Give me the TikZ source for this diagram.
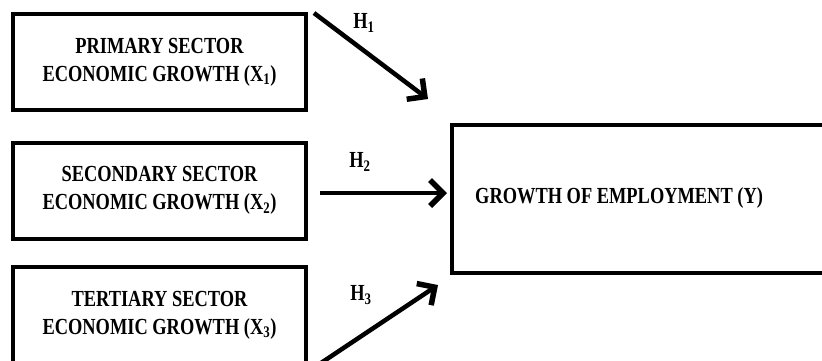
\documentclass[tikz,border=0pt]{standalone}
\usepackage{fontspec}
\setmainfont{Liberation Serif}
\newfontfamily\condfont[FakeStretch=0.8]{Liberation Serif}
\usetikzlibrary{arrows.meta,positioning}

\begin{document}
\begin{tikzpicture}[
  x=1pt, y=-1pt,
  sector/.style={draw, line width=4pt, minimum width=293pt, minimum height=96pt,
    inner sep=0pt, align=center, font=\condfont\bfseries\fontsize{23}{28}\selectfont},
  outcome/.style={draw, line width=4pt, minimum width=374pt, minimum height=148pt, inner sep=0pt},
  hyp/.style={font=\condfont\bfseries\fontsize{23}{24}\selectfont, inner sep=0pt},
  link/.style={line width=4.5pt, -{Straight Barb[length=13pt,width=26pt,line width=5.5pt]}}
]
\useasboundingbox (0,0) rectangle (822,360);

% ==================
% Sector boxes
% ==================
\node[sector] (x1) at (159.5,62) {PRIMARY SECTOR\\ECONOMIC GROWTH (X\textsubscript{1})};
\node[sector] (x2) at (159.5,190.5) {SECONDARY SECTOR\\ECONOMIC GROWTH (X\textsubscript{2})};
\node[sector] (x3) at (159.5,315) {TERTIARY SECTOR\\ECONOMIC GROWTH (X\textsubscript{3})};

% ==================
% Employment box
% ==================
\node[outcome] (y) at (639,199) {};
\node[anchor=west, font=\condfont\bfseries\fontsize{23}{24}\selectfont, inner sep=0pt]
  (ylab) at (475,198) {GROWTH OF EMPLOYMENT (Y)};

% ==================
% Hypotheses
% ==================
\coordinate (t1) at (428,99);
\coordinate (t2) at (447,193);
\coordinate (t3) at (438,285);

\draw[link] ([xshift=6pt,yshift=-1pt]x1.north east) -- (t1);
\draw[link] ([xshift=12pt,yshift=-2.5pt]x2.east) -- (t2);
\draw[link] ([xshift=4pt,yshift=-4pt]x3.south east) -- (t3);

\node[hyp] (h1) at (364,23) {H\textsubscript{1}};
\node[hyp] (h2) at (360,162) {H\textsubscript{2}};
\node[hyp] (h3) at (361,295) {H\textsubscript{3}};
\end{tikzpicture}
\end{document}
